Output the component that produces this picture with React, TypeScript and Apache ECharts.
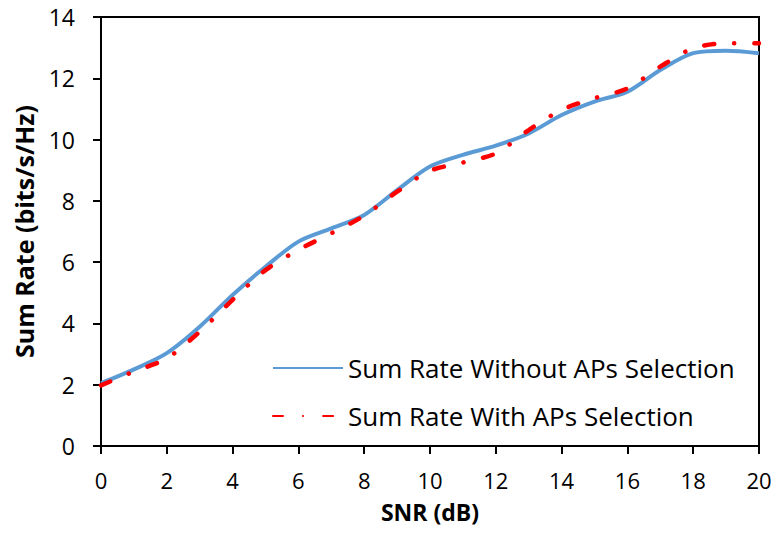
import React, { useEffect, useRef } from "react";
import * as echarts from "echarts";

const snr = [0, 1, 2, 3, 4, 5, 6, 7, 8, 9, 10, 11, 12, 13, 14, 15, 16, 17, 18, 19, 20];
const withoutSel = [2.05, 2.5, 3.03, 3.89, 4.93, 5.85, 6.67, 7.1, 7.54, 8.35, 9.12, 9.5, 9.8, 10.2, 10.8, 11.24, 11.56, 12.27, 12.82, 12.9, 12.82];
const withSel = [1.98, 2.43, 2.86, 3.73, 4.77, 5.74, 6.4, 6.94, 7.52, 8.3, 8.98, 9.25, 9.55, 10.31, 10.97, 11.35, 11.67, 12.38, 12.98, 13.14, 13.14];
const seriesNames = ["Sum Rate Without APs Selection", "Sum Rate With APs Selection"];

const FONT = "Open Sans";

export default function App() {
  const ref = useRef<HTMLDivElement>(null);
  useEffect(() => {
    const chart = echarts.init(ref.current!, null, { renderer: "svg" });
    const axisLine = { show: true, lineStyle: { color: "#000", width: 2 } };
    chart.setOption({
      animation: false,
      backgroundColor: "#fff",
      grid: { left: 101, right: 18, top: 17, bottom: 87, show: true, borderColor: "#000", borderWidth: 2 },
      legend: {
        orient: "vertical",
        left: 272,
        top: 353,
        padding: 0,
        itemWidth: 70,
        itemHeight: 14,
        itemGap: 18,
        itemStyle: { opacity: 0 },
        textStyle: { fontFamily: FONT, fontSize: 26, lineHeight: 30, color: "#000" },
        data: seriesNames,
      },
      xAxis: {
        type: "value",
        min: 0,
        max: 20,
        interval: 2,
        name: "SNR (dB)",
        nameLocation: "middle",
        nameGap: 54,
        nameTextStyle: { fontFamily: FONT, fontSize: 23, lineHeight: 24, fontWeight: "bold", color: "#000" },
        axisLine,
        axisTick: { show: true, length: 8, lineStyle: { color: "#000", width: 2 } },
        axisLabel: { fontFamily: FONT, fontSize: 22, lineHeight: 20, color: "#000", margin: 24 },
        splitLine: { show: false },
      },
      yAxis: {
        type: "value",
        min: 0,
        max: 14,
        interval: 2,
        name: "Sum Rate (bits/s/Hz)",
        nameLocation: "middle",
        nameGap: 64,
        nameTextStyle: { fontFamily: FONT, fontSize: 25, lineHeight: 26, fontWeight: "bold", color: "#000" },
        axisLine,
        axisTick: { show: true, length: 8, lineStyle: { color: "#000", width: 2 } },
        axisLabel: { fontFamily: FONT, fontSize: 23, color: "#000", margin: 26 },
        splitLine: { show: false },
      },
      series: [
        {
          name: seriesNames[0],
          type: "line",
          data: snr.map((x, i) => [x, withoutSel[i]]),
          smooth: 0.3,
          symbol: "none",
          lineStyle: { color: "#5B9BD5", width: 4 },
          itemStyle: { color: "#5B9BD5" },
          z: 2,
        },
        {
          name: seriesNames[1],
          type: "line",
          data: snr.map((x, i) => [x, withSel[i]]),
          smooth: 0.3,
          symbol: "none",
          lineStyle: { color: "#FF0000", width: 4.5, type: [10, 20, 0.1, 20], cap: "round" },
          itemStyle: { color: "#FF0000" },
          z: 3,
        },
      ],
    });
    return () => chart.dispose();
  }, []);
  return <div ref={ref} style={{ width: 777, height: 533, position: "absolute", left: 0, top: 0 }} />;
}
